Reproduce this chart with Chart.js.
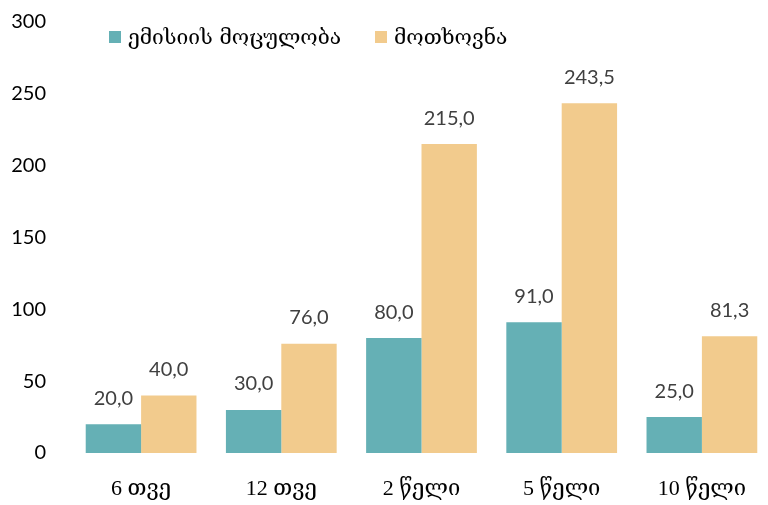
<!DOCTYPE html>
<html>
<head>
<meta charset="utf-8">
<script src="https://cdn.jsdelivr.net/npm/chart.js@4/dist/chart.umd.min.js"></script>
<style>
  html, body { margin: 0; padding: 0; background: #fff; overflow: hidden; }
  #wrap { position: relative; width: 772px; height: 505px; }
  #legend { position: absolute; left: 109px; top: 25px; font-family: "DejaVu Serif", serif; font-size: 21px; color: #000; white-space: nowrap; }
  #legend span.box { display: inline-block; width: 12px; height: 12px; margin-right: 7px; vertical-align: 1px; }
  #legend span.item { margin-right: 34px; }
</style>
</head>
<body>
<div id="wrap">
  <canvas id="chart" width="772" height="505"></canvas>
  <div id="legend"></div>
</div>
<script>
const categories = ["6 თვე", "12 თვე", "2 წელი", "5 წელი", "10 წელი"];
const emissionVolume = [20, 30, 80, 91, 25];
const demand = [40, 76, 215, 243.5, 81.3];
const seriesNames = ["ემისიის მოცულობა", "მოთხოვნა"];
const seriesColors = ["#65b0b5", "#f2cb8d"];
const yTicks = [0, 50, 100, 150, 200, 250, 300];

const legend = document.getElementById("legend");
legend.innerHTML = seriesNames.map((name, i) =>
  `<span class="item"><span class="box" style="background:${seriesColors[i]}"></span>${name}</span>`
).join("");

// draws the value above each bar, like the excel data labels
const valueLabels = {
  id: "valueLabels",
  afterDatasetsDraw(chart) {
    const ctx = chart.ctx;
    ctx.save();
    ctx.font = "20px Lato, 'Open Sans', sans-serif";
    ctx.fillStyle = "#404040";
    ctx.textAlign = "center";
    ctx.textBaseline = "bottom";
    chart.data.datasets.forEach((ds, i) => {
      chart.getDatasetMeta(i).data.forEach((bar, j) => {
        const text = ds.data[j].toFixed(1).replace(".", ",");
        ctx.fillText(text, bar.x, bar.y - 16);
      });
    });
    ctx.restore();
  }
};

new Chart("chart", {
  type: "bar",
  data: {
    labels: categories,
    datasets: [
      { label: seriesNames[0], data: emissionVolume, backgroundColor: seriesColors[0] },
      { label: seriesNames[1], data: demand, backgroundColor: seriesColors[1] }
    ]
  },
  options: {
    responsive: false,
    animation: false,
    devicePixelRatio: 1,
    layout: { padding: { top: 22, left: 0, right: 0, bottom: 0 } },
    datasets: { bar: { categoryPercentage: 0.79, barPercentage: 1 } },
    plugins: { legend: { display: false }, tooltip: { enabled: false } },
    scales: {
      x: {
        grid: { display: false },
        border: { display: false },
        ticks: {
          color: "#000",
          padding: 15,
          font: { family: "'Liberation Serif', 'DejaVu Serif', serif", size: 22 }
        },
        afterFit(scale) { scale.height = 52; }
      },
      y: {
        min: 0,
        max: 300,
        grid: { display: false },
        border: { display: false },
        afterBuildTicks(scale) { scale.ticks = yTicks.map(v => ({ value: v })); },
        ticks: {
          color: "#000",
          padding: 17,
          font: { family: "Lato, 'Open Sans', sans-serif", size: 20 }
        },
        afterFit(scale) {
          scale.width = 71;
          scale.paddingTop = 0;
          scale.paddingBottom = 0;
        }
      }
    }
  },
  plugins: [valueLabels]
});
</script>
</body>
</html>
